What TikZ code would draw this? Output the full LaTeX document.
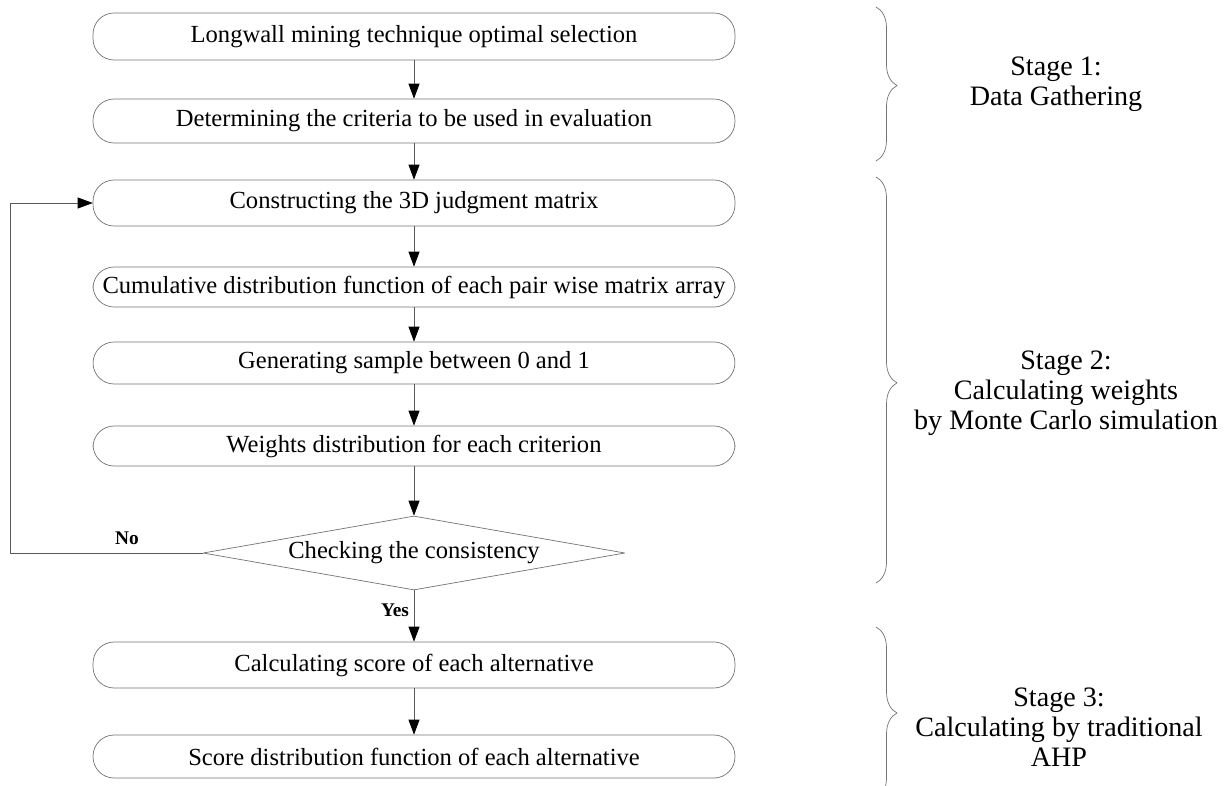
\documentclass[tikz,border=0pt]{standalone}
\usepackage{fontspec}
\setmainfont{Liberation Serif}
\usetikzlibrary{shapes.geometric,decorations.pathreplacing,arrows.meta}

\begin{document}
\begin{tikzpicture}[x=0.02cm, y=-0.02cm, line join=round, line cap=round, >={Triangle[length=3mm,width=2.2mm,color=black]}]
	\tikzset{stepbox/.style={draw=black!55, rounded corners=0.42cm, minimum width=12.84cm, inner sep=0pt, font=\fontsize{14}{16}\selectfont},
		checkbox/.style={draw=black!55, shape=diamond, aspect=5.7, minimum width=8.44cm, minimum height=1.48cm, inner sep=0pt, font=\fontsize{14}{16}\selectfont},
		flow/.style={draw=black!65, ->},
		stagebrace/.style={draw=black!55, decorate, decoration={brace, amplitude=0.42cm, #1}},
		stagetext/.style={align=center, font=\fontsize{16}{17}\selectfont},
		answer/.style={font=\bfseries\fontsize{11}{12}\selectfont}}
	%Khung hình
	\useasboundingbox (0,0) rectangle (1224,785);
	\clip (0,0) rectangle (1224,785);
	
	%Các bước
	\node[stepbox, minimum height=0.94cm] (select) at (414,36.5) {Longwall mining technique optimal selection};
	\node[stepbox, minimum height=0.88cm] (criteria) at (414,121) {Determining the criteria to be used in evaluation};
	\node[stepbox, minimum height=0.92cm] (matrix) at (414,203) {Constructing the 3D judgment matrix};
	\node[stepbox, minimum height=0.80cm] (cdf) at (414,287) {Cumulative distribution function of each pair wise matrix array};
	\node[stepbox, minimum height=0.84cm] (sample) at (414,363) {Generating sample between 0 and 1};
	\node[stepbox, minimum height=0.80cm] (weights) at (414,446) {Weights distribution for each criterion};
	\node[checkbox] (check) at (414,553) {Checking the consistency};
	\node[stepbox, minimum height=0.92cm] (score) at (414,665) {Calculating score of each alternative};
	\node[stepbox, minimum height=0.86cm] (scoredist) at (414,756.5) {Score distribution function of each alternative};
	
	%Mũi tên
	\draw[flow] (select) -- (criteria);
	\draw[flow] (criteria) -- (matrix);
	\draw[flow] (matrix) -- (cdf);
	\draw[flow] (cdf) -- (sample);
	\draw[flow] (sample) -- (weights);
	\draw[flow] (weights) -- (check);
	\draw[flow] (check) -- (score);
	\draw[flow] (score) -- (scoredist);
	\coordinate (back) at (10,553);
	\draw[flow] (check.west) -- (back) |- (matrix.west);
	\node[answer] (no) at (127,538) {No};
	\node[answer] (yes) at (395,610) {Yes};
	
	%Các giai đoạn
	\draw[stagebrace={aspect=0.51}] (876,7) -- (876,161);
	\draw[stagebrace={aspect=0.507}] (876,177) -- (876,583);
	\draw[stagebrace={aspect=0.5}] (876,627) -- (876,799);
	\node[stagetext] (stage1) at (1056,84) {Stage 1:\\Data Gathering};
	\node[stagetext] (stage2) at (1066,393) {Stage 2:\\Calculating weights\\by Monte Carlo simulation};
	\node[stagetext] (stage3) at (1059,727) {Stage 3:\\Calculating by traditional\\AHP};
\end{tikzpicture}
\end{document}
